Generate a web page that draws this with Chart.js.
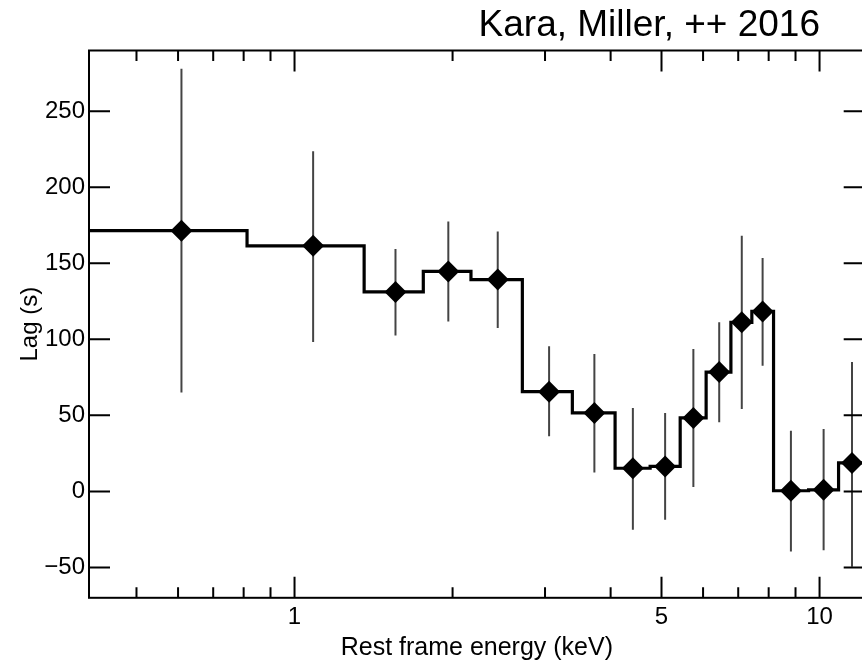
<!DOCTYPE html>
<html>
<head>
<meta charset="utf-8">
<title>Lag vs energy</title>
<script src="https://cdn.jsdelivr.net/npm/chart.js@4.4.1/dist/chart.umd.min.js"></script>
<style>
  html, body { margin: 0; padding: 0; background: #fff; overflow: hidden; }
  #wrap { width: 862px; height: 662px; overflow: hidden; position: relative; }
  canvas { display: block; }
</style>
</head>
<body>
<div id="wrap">
  <canvas id="chart" width="880" height="662"></canvas>
</div>
<script>
'use strict'

// Lag-energy spectrum

// bin edges in keV (step line changes level at each edge)
const binEdges = [0.406, 0.812, 1.357, 1.759, 2.168, 2.716, 3.382, 4.079, 4.757, 5.427, 6.081, 6.779, 7.431, 8.173, 9.53, 10.87, 12.19];
// diamond positions (keV)
const energies = [0.609, 1.085, 1.557, 1.963, 2.438, 3.054, 3.725, 4.41, 5.08, 5.75, 6.44, 7.11, 7.79, 8.82, 10.18, 11.53];
// lag in seconds
const lagValues = [171.5, 161.5, 131.2, 144.7, 139.3, 65.6, 51.6, 15.2, 16.4, 48.3, 78.5, 111.2, 118.4, 0.4, 1.0, 18.7];
// error bar ends
const errUpper = [278, 223.7, 159.5, 177.6, 171, 95.4, 90.4, 54.9, 51.6, 93.7, 111.2, 168.2, 153.5, 39.9, 41, 85.1];
const errLower = [65, 98.3, 102.6, 111.8, 107.5, 36.2, 12.5, -25.2, -18.6, 2.9, 45.4, 54.2, 82.7, -39.5, -38.8, -49.5];

// axes
const xMajorTicks = [1, 5, 10];
const xMinorTicks = [0.5, 0.6, 0.7, 0.8, 0.9, 2, 3, 4, 6, 7, 8, 9];
const yTicks = [-50, 0, 50, 100, 150, 200, 250];
const xRange = [0.406, 12.19];
const yRange = [-70, 290];

const noteText = 'Kara, Miller, ++ 2016';
const fontFamily = '"Liberation Sans", Arial, Helvetica, sans-serif';

// step line: one point per bin edge, last edge repeats last value
let stepPoints = [];
for (let i = 0; i < binEdges.length; i++) {
    stepPoints.push({ x: binEdges[i], y: lagValues[Math.min(i, lagValues.length - 1)] });
}

let diamondPoints = energies.map((e, i) => ({ x: e, y: lagValues[i] }));

// error bars as one broken line
let errPoints = [];
for (let i = 0; i < energies.length; i++) {
    errPoints.push({ x: energies[i], y: errLower[i] });
    errPoints.push({ x: energies[i], y: errUpper[i] });
    errPoints.push({ x: energies[i], y: null });
}

// frame with inward ticks on all four sides + the note at the top
const framePlugin = {
    id: 'frame',
    afterDatasetsDraw(chart) {
        const ctx = chart.ctx;
        const a = chart.chartArea;
        const xs = chart.scales.x;
        const ys = chart.scales.y;
        ctx.save();
        ctx.strokeStyle = '#000';
        ctx.lineWidth = 2;
        ctx.strokeRect(a.left, a.top, a.right - a.left, a.bottom - a.top);
        ctx.beginPath();
        xMajorTicks.forEach(v => {
            const px = xs.getPixelForValue(v);
            ctx.moveTo(px, a.bottom); ctx.lineTo(px, a.bottom - 21);
            ctx.moveTo(px, a.top); ctx.lineTo(px, a.top + 21);
        });
        xMinorTicks.forEach(v => {
            const px = xs.getPixelForValue(v);
            ctx.moveTo(px, a.bottom); ctx.lineTo(px, a.bottom - 10.5);
            ctx.moveTo(px, a.top); ctx.lineTo(px, a.top + 10.5);
        });
        yTicks.forEach(v => {
            const py = ys.getPixelForValue(v);
            ctx.moveTo(a.left, py); ctx.lineTo(a.left + 21, py);
            ctx.moveTo(a.right, py); ctx.lineTo(a.right - 21, py);
        });
        ctx.stroke();

        ctx.font = '37px ' + fontFamily;
        ctx.fillStyle = '#000';
        ctx.textAlign = 'right';
        ctx.textBaseline = 'alphabetic';
        ctx.fillText(noteText, 820, 36);
        ctx.restore();
    }
};

const config = {
    type: 'line',
    data: {
        datasets: [
            {
                label: 'lag',
                type: 'scatter',
                data: diamondPoints,
                pointStyle: 'rectRot',
                pointRadius: 11,
                pointBackgroundColor: '#000',
                pointBorderWidth: 0,
                showLine: false,
                order: 0
            },
            {
                label: 'step',
                data: stepPoints,
                stepped: 'before',
                borderColor: '#000',
                borderWidth: 3.2,
                borderJoinStyle: 'miter',
                borderCapStyle: 'butt',
                pointRadius: 0,
                fill: false,
                order: 1
            },
            {
                label: 'errors',
                data: errPoints,
                borderColor: '#444',
                borderWidth: 2,
                borderCapStyle: 'butt',
                pointRadius: 0,
                spanGaps: false,
                fill: false,
                order: 2
            }
        ]
    },
    options: {
        responsive: false,
        animation: false,
        devicePixelRatio: 1,
        layout: { padding: { left: 0, top: 50.5, right: 15.3, bottom: 0 } },
        plugins: {
            legend: { display: false },
            tooltip: { enabled: false }
        },
        scales: {
            x: {
                type: 'logarithmic',
                min: xRange[0],
                max: xRange[1],
                grid: { display: false, drawTicks: false },
                border: { display: false },
                afterBuildTicks: s => { s.ticks = xMajorTicks.map(v => ({ value: v })); },
                afterFit: s => { s.height = 662 - 597.8; },
                ticks: {
                    autoSkip: false,
                    maxRotation: 0,
                    padding: 5,
                    color: '#000',
                    font: { family: fontFamily, size: 24 },
                    callback: v => String(v)
                },
                title: {
                    display: true,
                    text: 'Rest frame energy (keV)',
                    color: '#000',
                    padding: 0,
                    font: { family: fontFamily, size: 25, lineHeight: 1.1 }
                }
            },
            y: {
                min: yRange[0],
                max: yRange[1],
                grid: { display: false, drawTicks: false },
                border: { display: false },
                afterBuildTicks: s => { s.ticks = yTicks.map(v => ({ value: v })); },
                afterFit: s => { s.width = 89; },
                ticks: {
                    padding: 4,
                    color: '#000',
                    font: { family: fontFamily, size: 24 },
                    callback: v => (v < 0 ? '\u2212' + Math.abs(v) : String(v))
                },
                title: {
                    display: true,
                    text: 'Lag (s)',
                    color: '#000',
                    padding: { top: 15.6, bottom: 0 },
                    font: { family: fontFamily, size: 24 }
                }
            }
        }
    },
    plugins: [framePlugin]
};

const myChart = new Chart(document.getElementById('chart'), config);
</script>
</body>
</html>
